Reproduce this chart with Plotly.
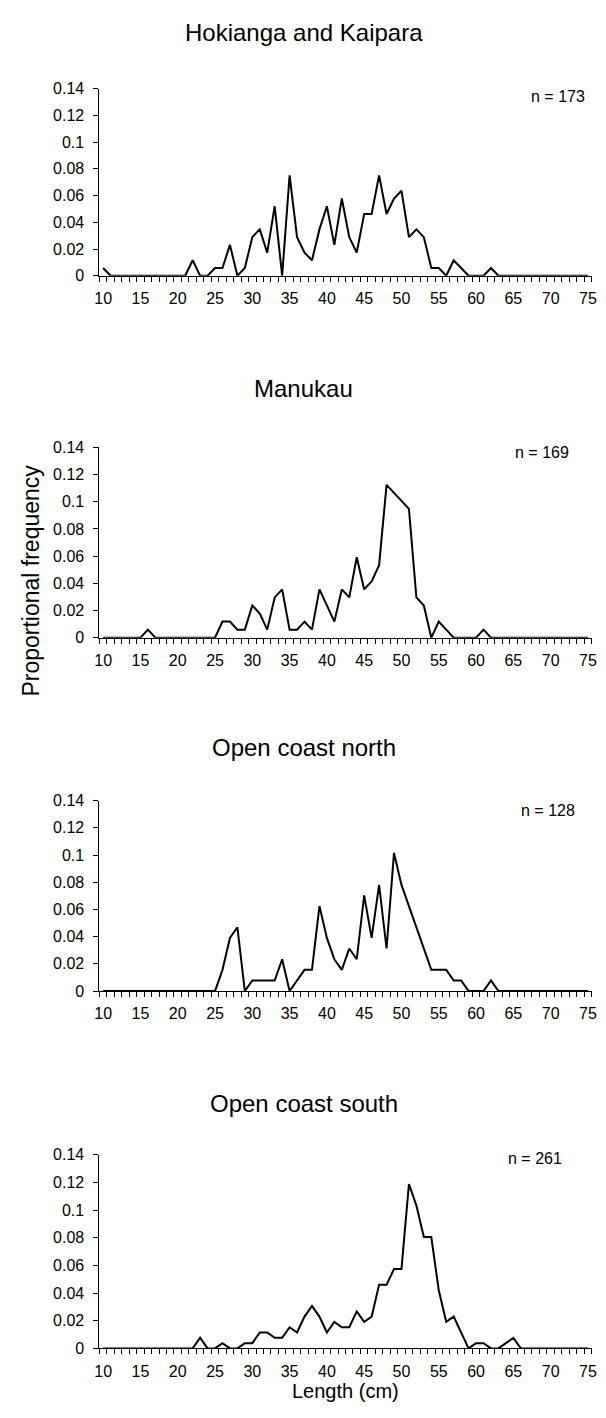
import plotly.graph_objects as go

# ---------------- data ----------------
lengths = list(range(10, 76))          # length classes (cm), category axis
x_tick_vals = [10, 15, 20, 25, 30, 35, 40, 45, 50, 55, 60, 65, 70, 75]
x_tick_text = ["10", "15", "20", "25", "30", "35", "40", "45", "50", "55", "60", "65", "70", "75"]
y_tick_vals = [0, 0.02, 0.04, 0.06, 0.08, 0.10, 0.12, 0.14]
y_tick_text = ["0", "0.02", "0.04", "0.06", "0.08", "0.1", "0.12", "0.14"]

panel_titles = ["Hokianga and Kaipara", "Manukau", "Open coast north", "Open coast south"]
n_labels = ["n = 173", "n = 169", "n = 128", "n = 261"]

hokianga_kaipara = [
    0.0058, 0, 0, 0, 0, 0, 0, 0, 0, 0,                                   # 10-19
    0, 0, 0.0116, 0, 0, 0.0058, 0.0058, 0.0231, 0, 0.0058,               # 20-29
    0.0289, 0.0347, 0.0173, 0.0520, 0, 0.0751, 0.0289, 0.0173, 0.0116, 0.0347,  # 30-39
    0.0520, 0.0231, 0.0578, 0.0289, 0.0173, 0.0462, 0.0462, 0.0751, 0.0462, 0.0578,  # 40-49
    0.0636, 0.0289, 0.0347, 0.0289, 0.0058, 0.0058, 0, 0.0116, 0.0058, 0,  # 50-59
    0, 0, 0.0058, 0, 0, 0, 0, 0, 0, 0,                                    # 60-69
    0, 0, 0, 0, 0, 0,                                                     # 70-75
]
manukau = [
    0, 0, 0, 0, 0, 0, 0.0059, 0, 0, 0,                                    # 10-19
    0, 0, 0, 0, 0, 0, 0.0118, 0.0118, 0.0059, 0.0059,                     # 20-29
    0.0237, 0.0178, 0.0059, 0.0296, 0.0355, 0.0059, 0.0059, 0.0118, 0.0059, 0.0355,  # 30-39
    0.0237, 0.0118, 0.0355, 0.0296, 0.0592, 0.0355, 0.0414, 0.0533, 0.1124, 0.1065,  # 40-49
    0.1006, 0.0947, 0.0296, 0.0237, 0, 0.0118, 0.0059, 0, 0, 0,           # 50-59
    0, 0.0059, 0, 0, 0, 0, 0, 0, 0, 0,                                    # 60-69
    0, 0, 0, 0, 0, 0,                                                     # 70-75
]
open_coast_north = [
    0, 0, 0, 0, 0, 0, 0, 0, 0, 0,                                         # 10-19
    0, 0, 0, 0, 0, 0, 0.0156, 0.0391, 0.0469, 0,                          # 20-29
    0.0078, 0.0078, 0.0078, 0.0078, 0.0234, 0, 0.0078, 0.0156, 0.0156, 0.0625,  # 30-39
    0.0391, 0.0234, 0.0156, 0.0313, 0.0234, 0.0703, 0.0391, 0.0781, 0.0313, 0.1016,  # 40-49
    0.0781, 0.0625, 0.0469, 0.0313, 0.0156, 0.0156, 0.0156, 0.0078, 0.0078, 0,  # 50-59
    0, 0, 0.0078, 0, 0, 0, 0, 0, 0, 0,                                    # 60-69
    0, 0, 0, 0, 0, 0,                                                     # 70-75
]
open_coast_south = [
    0, 0, 0, 0, 0, 0, 0, 0, 0, 0,                                         # 10-19
    0, 0, 0, 0.0077, 0, 0, 0.0038, 0, 0, 0.0038,                          # 20-29
    0.0038, 0.0115, 0.0115, 0.0077, 0.0077, 0.0153, 0.0115, 0.0230, 0.0307, 0.0230,  # 30-39
    0.0115, 0.0192, 0.0153, 0.0153, 0.0268, 0.0192, 0.0230, 0.0460, 0.0460, 0.0575,  # 40-49
    0.0575, 0.1188, 0.1034, 0.0805, 0.0805, 0.0421, 0.0192, 0.0230, 0.0115, 0,  # 50-59
    0.0038, 0.0038, 0, 0, 0.0038, 0.0077, 0, 0, 0, 0,                     # 60-69
    0, 0, 0, 0, 0, 0,                                                     # 70-75
]
series = [hokianga_kaipara, manukau, open_coast_north, open_coast_south]

# ---------------- layout (pixel geometry) ----------------
W, H = 606, 1418
FONT = "Liberation Sans, Arial, sans-serif"
X_LEFT, X_RIGHT = 96, 596.5
panels = [
    dict(top=81.7, zero=271.0, title_y=24.7, n_x=562, n_y=89.2),
    dict(top=444.7, zero=637.3, title_y=385.3, n_x=546, n_y=450.3),
    dict(top=802.3, zero=995.0, title_y=748.3, n_x=552, n_y=812.5),
    dict(top=1160.7, zero=1356.7, title_y=1109.0, n_x=539, n_y=1164.5),
]
TITLE_X = 304


def px(x):
    return x / W


def py(y):
    return 1 - y / H


fig = go.Figure()
layout = dict(
    width=W, height=H, autosize=False,
    margin=dict(l=0, r=0, t=0, b=0),
    paper_bgcolor="white", plot_bgcolor="white",
    showlegend=False,
    font=dict(family=FONT, color="black", size=16),
)
annotations = []

for i, (vals, p) in enumerate(zip(series, panels)):
    k = "" if i == 0 else str(i + 1)
    fig.add_trace(go.Scatter(
        x=lengths, y=vals, mode="lines",
        line=dict(color="black", width=2),
        xaxis="x" + k, yaxis="y" + k, hoverinfo="skip",
    ))
    layout["xaxis" + k] = dict(
        domain=[px(X_LEFT), px(X_RIGHT)], anchor="y" + k,
        range=[9.5, 75.5], showgrid=False, zeroline=False,
        showline=True, linecolor="black", linewidth=1,
        tickmode="array", tickvals=x_tick_vals, ticktext=x_tick_text,
        ticks="", ticklabelstandoff=8,
        tickfont=dict(family=FONT, size=16, color="black"),
        minor=dict(ticks="outside", ticklen=5, tickwidth=1, tickcolor="black",
                   tick0=9.5, dtick=1, showgrid=False),
    )
    layout["yaxis" + k] = dict(
        domain=[py(p["zero"]), py(p["top"])], anchor="x" + k,
        range=[0, 0.14], showgrid=False, zeroline=False,
        showline=True, linecolor="black", linewidth=1,
        tickmode="array", tickvals=y_tick_vals, ticktext=y_tick_text,
        ticks="outside", ticklen=5, tickwidth=1, tickcolor="black",
        ticklabelstandoff=6,
        tickfont=dict(family=FONT, size=16, color="black"),
    )
    annotations.append(dict(
        text=panel_titles[i], xref="paper", yref="paper",
        x=px(TITLE_X), y=py(p["title_y"]), xanchor="center", yanchor="middle",
        showarrow=False, font=dict(family=FONT, size=24, color="black"),
    ))
    annotations.append(dict(
        text=n_labels[i], xref="paper", yref="paper",
        x=px(p["n_x"]), y=py(p["n_y"]), xanchor="center", yanchor="middle",
        showarrow=False, font=dict(family=FONT, size=16, color="black"),
    ))

annotations.append(dict(
    text="Proportional frequency", xref="paper", yref="paper",
    x=px(26), y=py(580), xanchor="center", yanchor="middle", textangle=-90,
    showarrow=False, font=dict(family=FONT, size=23, color="black"),
))
annotations.append(dict(
    text="Length (cm)", xref="paper", yref="paper",
    x=px(346), y=py(1400), xanchor="center", yanchor="middle",
    showarrow=False, font=dict(family=FONT, size=20, color="black"),
))
layout["annotations"] = annotations
fig.update_layout(**layout)
fig.write_html("out.html")
